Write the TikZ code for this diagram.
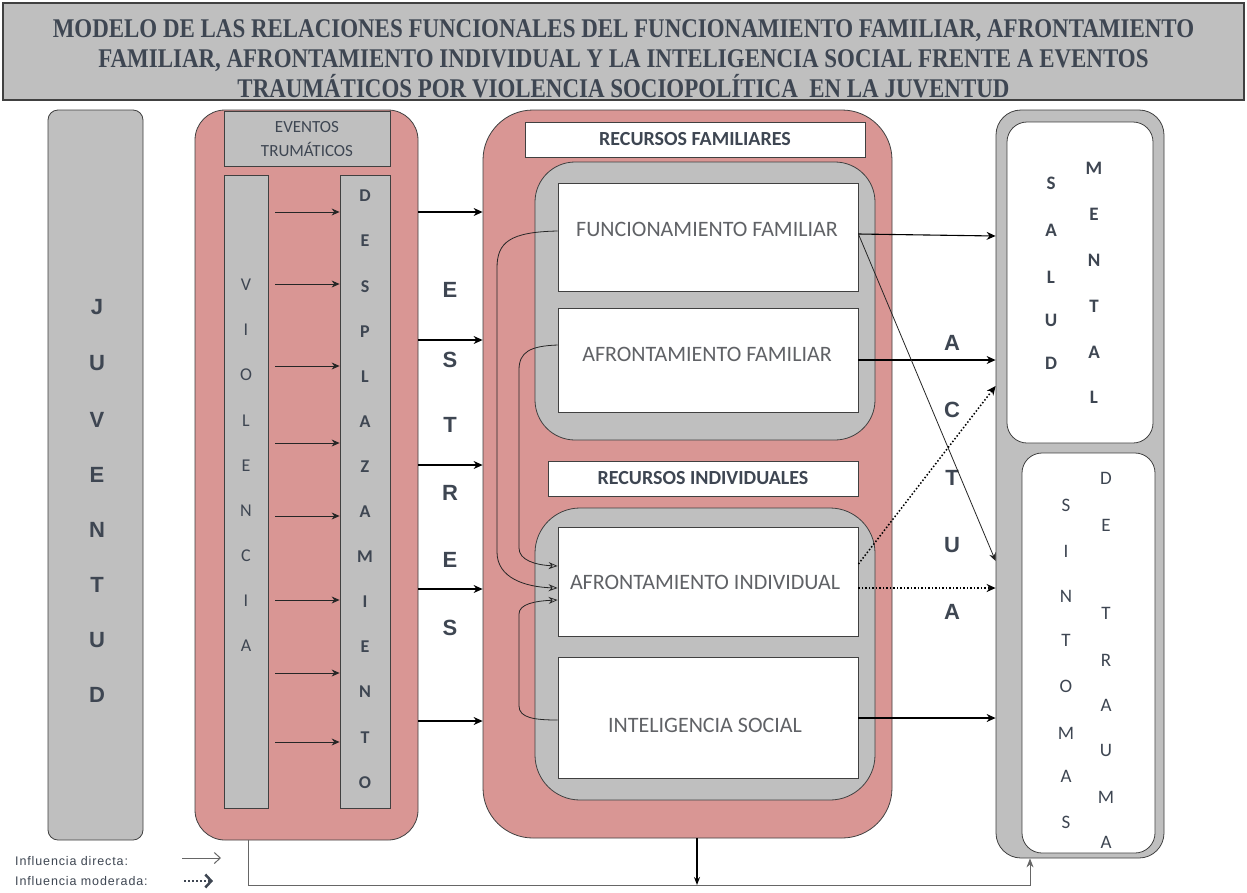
\documentclass[tikz,border=0pt]{standalone}
\usepackage{fontspec}
\setmainfont{Carlito}
\newfontfamily\titlefont[FakeStretch=0.85]{Liberation Serif}
\newfontfamily\heavysans{Liberation Sans}
\newfontfamily\legendfont[LetterSpace=7]{Liberation Sans}
\usetikzlibrary{arrows.meta}
\definecolor{panelred}{RGB}{217,150,148}
\definecolor{panelgray}{RGB}{191,191,191}
\definecolor{edge}{RGB}{64,64,64}
\definecolor{ink}{RGB}{62,70,82}
\definecolor{softink}{RGB}{96,98,102}
\tikzset{
  titlebox/.style={draw=edge, line width=1.6pt, fill=panelgray, minimum width=1241, minimum height=97, inner sep=0},
  redpanel/.style={draw=edge, line width=0.8pt, fill=panelred, rounded corners=#1, inner sep=0},
  graypanel/.style={draw=edge, line width=0.8pt, fill=panelgray, rounded corners=#1, inner sep=0},
  whitebox/.style={draw=edge, line width=0.8pt, fill=white, inner sep=0},
  roundwhite/.style={draw=edge, line width=0.8pt, fill=white, rounded corners=#1, inner sep=0},
  bigletter/.style={font=\heavysans\bfseries\fontsize{22}{22}\selectfont, text=ink, inner sep=0},
  colletter/.style={font=\fontsize{18}{18}\selectfont, text=ink, inner sep=0},
  sideletter/.style={font=\bfseries\fontsize{19}{19}\selectfont, text=ink, inner sep=0},
  boxtext/.style={font=\fontsize{22}{22}\selectfont, text=softink},
  headtext/.style={font=\bfseries\fontsize{20}{20}\selectfont, text=ink},
  direct/.style={-{Stealth[length=9,width=8]}, line width=1.1pt, draw=black},
  thin/.style={-{Stealth[length=8,width=7]}, line width=0.8pt, draw=black!85},
  moderate/.style={-{Stealth[length=9,width=8]}, line width=1.5pt, dotted, draw=black},
  curved/.style={-{Stealth[length=9,width=7,open]}, line width=0.8pt, draw=black!85},
  legendtext/.style={font=\legendfont\fontsize{12.5}{12.5}\selectfont, text=ink, anchor=west, inner sep=0},
}
\begin{document}
\begin{tikzpicture}[x=1pt, y=-1pt]
\useasboundingbox (0,0) rectangle (1247,892);
\fill[white] (0,0) rectangle (1247,892);

% heading
\node[titlebox] (title) at (623.5,51.5) {};
\node[font=\titlefont\bfseries\fontsize{27}{30}\selectfont, text=ink, align=center] (titletext) at (623.5,58.5)
  {MODELO DE LAS RELACIONES FUNCIONALES DEL FUNCIONAMIENTO FAMILIAR, AFRONTAMIENTO\\
   FAMILIAR, AFRONTAMIENTO INDIVIDUAL Y LA INTELIGENCIA SOCIAL FRENTE A EVENTOS\\
   TRAUMÁTICOS POR VIOLENCIA SOCIOPOLÍTICA\ \ EN LA JUVENTUD};

% youth column
\node[graypanel=10, minimum width=95, minimum height=730] (juv) at (95.5,475) {};
\foreach \l/\yy [count=\i] in {J/307,U/363,V/420,E/475,N/530,T/585,U/640,D/695}
  \node[bigletter] (juv\i) at (97,\yy) {\l};

% traumatic events panel
\node[redpanel=30, minimum width=223, minimum height=730] (events) at (306.5,475) {};
\node[draw=edge, line width=0.8pt, fill=panelgray, minimum width=166, minimum height=55, inner sep=0,
      align=center, font=\fontsize{17}{24}\selectfont, text=ink] (evhead) at (307,139) {EVENTOS\\TRUMÁTICOS};
\node[draw=edge, line width=0.8pt, fill=panelgray, minimum width=44, minimum height=633, inner sep=0] (viol) at (246,491.5) {};
\node[draw=edge, line width=0.8pt, fill=panelgray, minimum width=50, minimum height=633, inner sep=0] (desp) at (365,491.5) {};
\foreach \l [count=\i] in {V,I,O,L,E,N,C,I,A}
  \node[colletter] (vl\i) at (246,{285+45.1*(\i-1)}) {\l};
\foreach \l [count=\i] in {D,E,S,P,L,A,Z,A,M,I,E,N,T,O}
  \node[colletter, font=\bfseries\fontsize{18}{18}\selectfont] (dl\i) at (365,{196+45.1*(\i-1)}) {\l};
\foreach \yy in {212,284,366,443,516,600,673,742}
  \draw[thin] ([xshift=7]viol.east |- 0,\yy) -- (desp.west |- 0,\yy);

% resources panel
\node[redpanel=50, minimum width=409, minimum height=728] (resources) at (687.5,474) {};
\node[whitebox, minimum width=340, minimum height=35, headtext] (rfhead) at (695,139.5) {RECURSOS FAMILIARES};
\node[graypanel=40, minimum width=340, minimum height=278] (famgroup) at (705,301) {};
\node[whitebox, minimum width=300, minimum height=108] (ff) at (708,237) {};
\node[boxtext] (fftext) at (707,229) {FUNCIONAMIENTO FAMILIAR};
\node[whitebox, minimum width=300, minimum height=104] (af) at (708,360) {};
\node[boxtext] (aftext) at (707,354) {AFRONTAMIENTO FAMILIAR};
\node[whitebox, minimum width=310, minimum height=35, headtext] (rihead) at (703,478.5) {RECURSOS INDIVIDUALES};
\node[graypanel=45, minimum width=340, minimum height=292] (indgroup) at (705,654) {};
\node[whitebox, minimum width=300, minimum height=109] (ai) at (708,581.5) {};
\node[boxtext] (aitext) at (705,582) {AFRONTAMIENTO INDIVIDUAL};
\node[whitebox, minimum width=300, minimum height=121] (is) at (708,717.5) {};
\node[boxtext] (istext) at (705,725) {INTELIGENCIA SOCIAL};

% stress column
\foreach \l/\yy [count=\i] in {E/290,S/360,T/425,R/493,E/560,S/628}
  \node[bigletter] (es\i) at (450,\yy) {\l};
\foreach \yy in {212,340,465,589,721}
  \draw[direct] (events.east |- 0,\yy) -- (resources.west |- 0,\yy);

% outcomes panel
\node[graypanel=25, minimum width=168, minimum height=748] (outcomes) at (1080,484) {};
\node[roundwhite=20, minimum width=146, minimum height=321] (mental) at (1080,282.5) {};
\node[roundwhite=20, minimum width=133, minimum height=400] (trauma) at (1088.5,653) {};
\foreach \l/\yy [count=\i] in {S/183,A/230,L/277,U/320,D/363}
  \node[sideletter] (sa\i) at (1051,\yy) {\l};
\foreach \l/\yy [count=\i] in {M/168,E/214,N/260,T/306,A/352,L/397}
  \node[sideletter] (me\i) at (1094,\yy) {\l};
\foreach \l/\yy [count=\i] in {S/505,I/551,N/596,T/640,O/686,M/733,A/776,S/822}
  \node[sideletter, font=\fontsize{19}{19}\selectfont] (si\i) at (1066,\yy) {\l};
\foreach \l/\yy [count=\i] in {D/478,E/525,T/613,R/660,A/705,U/750,M/797,A/842}
  \node[sideletter, font=\fontsize{19}{19}\selectfont] (tr\i) at (1106,\yy) {\l};

% action column
\foreach \l/\yy [count=\i] in {A/343,C/410,T/478,U/545,A/612}
  \node[bigletter] (ac\i) at (952,\yy) {\l};

% links between resources
\draw[curved] (ff.west |- 0,231) .. controls (510,232) and (497,242) .. (497,268)
  -- (497,552) .. controls (497,578) and (525,587) .. (ai.west |- 0,588);
\draw[curved] (af.west |- 0,345) .. controls (530,346) and (519,352) .. (519,370)
  -- (519,548) .. controls (519,560) and (535,565) .. (ai.west |- 0,566);
\draw[curved] (is.west |- 0,720) .. controls (535,720) and (519,718) .. (519,706)
  -- (519,614) .. controls (519,604) and (535,601) .. (ai.west |- 0,600);

% links to outcomes
\draw[direct] (ff.east |- 0,234) -- (outcomes.west |- 0,236);
\draw[direct] (af.east |- 0,360) -- (outcomes.west |- 0,360);
\draw[thin] (ff.east |- 0,234) -- (outcomes.west |- 0,561);
\draw[moderate] (ai.east |- 0,564) -- (outcomes.west |- 0,386);
\draw[moderate] (ai.east |- 0,588) -- (outcomes.west |- 0,588);
\draw[direct] (is.east |- 0,718) -- (outcomes.west |- 0,718);

% feedback along the bottom
\coordinate (base) at (697,885);
\draw[gray!80!black, line width=1pt, -{Stealth[length=9,width=7]}]
  (events.south -| 248,0) -- (248,885) -- (1030,885) -- (outcomes.south -| 1030,0);
\draw[black, line width=1.6pt, -{Stealth[length=8,width=6]}] (resources.south -| 697,0) -- (base);

% legend
\node[legendtext] (leg1) at (15,861) {Influencia directa:};
\node[legendtext] (leg2) at (15,881) {Influencia moderada:};
\coordinate (l1a) at (182,858); \coordinate (l1b) at (221,858);
\coordinate (l2a) at (184,881); \coordinate (l2b) at (213,881);
\draw[gray!80!black, line width=1pt, -{Straight Barb[length=6,width=11]}] (l1a) -- (l1b);
\draw[ink, line width=2pt, dotted, -{Straight Barb[length=6,width=13,line width=2.5pt]}] (l2a) -- (l2b);
\end{tikzpicture}
\end{document}
